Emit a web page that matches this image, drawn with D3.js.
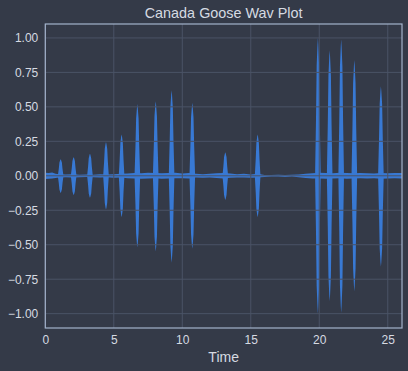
<!DOCTYPE html>
<html><head><meta charset="utf-8">
<script src="https://cdn.jsdelivr.net/npm/d3@7"></script>
<style>
html,body{margin:0;padding:0;background:#343a48;}
svg{display:block;}
</style></head>
<body>
<svg id="chart" width="408" height="371"></svg>
<script>
// ---- data ----
const title = "Canada Goose Wav Plot";
const xLabel = "Time";
const xTicks = [0, 5, 10, 15, 20, 25];
const yTicks = [-1.0, -0.75, -0.5, -0.25, 0.0, 0.25, 0.5, 0.75, 1.0];
const duration = 26.04;

// background noise envelope
const noiseTime = [0,0.25,0.5,0.75,1.0,1.5,2.0,2.5,3.0,3.5,4.0,4.5,5.0,5.5,6.0,6.5,7.0,7.5,8.0,8.5,9.0,9.5,10.0,10.5,11.0,11.5,12.0,12.5,13.0,13.5,14.0,14.5,15.0,15.5,16.0,16.5,17.0,17.5,18.0,18.5,19.0,19.5,20.0,20.5,21.0,21.5,22.0,22.5,23.0,23.5,24.0,24.5,25.0,25.5,26.04];
const noiseMax  = [0.022,0.02,0.024,0.015,0.012,0.01,0.012,0.008,0.01,0.008,0.012,0.01,0.012,0.014,0.016,0.02,0.018,0.022,0.02,0.018,0.02,0.022,0.016,0.02,0.014,0.012,0.014,0.018,0.02,0.016,0.012,0.014,0.01,0.014,0.006,0.006,0.008,0.006,0.008,0.01,0.014,0.018,0.022,0.02,0.018,0.022,0.02,0.018,0.02,0.018,0.016,0.02,0.018,0.02,0.02];
const noiseMin  = [-0.024,-0.022,-0.02,-0.016,-0.012,-0.01,-0.012,-0.01,-0.008,-0.01,-0.012,-0.01,-0.014,-0.012,-0.018,-0.02,-0.022,-0.02,-0.018,-0.022,-0.02,-0.018,-0.018,-0.02,-0.012,-0.014,-0.012,-0.016,-0.02,-0.014,-0.012,-0.012,-0.014,-0.012,-0.008,-0.006,-0.006,-0.008,-0.006,-0.01,-0.016,-0.02,-0.02,-0.022,-0.02,-0.018,-0.022,-0.02,-0.018,-0.02,-0.018,-0.022,-0.02,-0.018,-0.02];

// call bursts: time of peak, positive peak, negative peak
const burstTime = [1.12, 2.07, 3.26, 4.43, 5.57, 6.72, 8.06, 9.22, 10.73, 13.14, 15.5, 19.9, 20.76, 21.6, 22.56, 24.5];
const burstMax  = [0.12, 0.135, 0.16, 0.245, 0.30, 0.52, 0.54, 0.62, 0.53, 0.17, 0.30, 1.0, 0.91, 0.99, 0.84, 0.65];
const burstMin  = [-0.125, -0.14, -0.16, -0.245, -0.30, -0.52, -0.55, -0.63, -0.53, -0.175, -0.30, -1.0, -0.91, -0.995, -0.84, -0.66];

// ---- style / layout ----
const W = 408, H = 371;
const m = {left: 45.3, right: 6, top: 24, bottom: 43};
const bg = "#343a48", gridC = "#4a5366", spineC = "#a3b3cc", textC = "#d6dae2", waveC = "#3879d4";
const font = "'Liberation Sans', Arial, sans-serif";
// spindle profile of one burst (offset in s, relative amplitude)
const profOff = [-0.2,-0.14,-0.09,-0.03,0,0.03,0.09,0.14,0.2];
const profAmp = [0.04,0.4,0.8,0.95,1,0.95,0.8,0.4,0.04];

const svg = d3.select("#chart");
svg.append("rect").attr("width", W).attr("height", H).attr("fill", bg);

const x = d3.scaleLinear().domain([0, duration]).range([m.left, W - m.right]);
const y = d3.scaleLinear().domain([-1.104, 1.101]).range([H - m.bottom, m.top]);

// waveform
const noise = noiseTime.map((t, i) => ({t, hi: noiseMax[i], lo: noiseMin[i]}));
const area = d3.area().x(d => x(d.t)).y0(d => y(d.lo)).y1(d => y(d.hi));
svg.append("clipPath").attr("id", "clip").append("rect")
  .attr("x", m.left).attr("y", m.top).attr("width", W - m.right - m.left).attr("height", H - m.bottom - m.top);
const wave = svg.append("g").attr("clip-path", "url(#clip)");
wave.append("path").datum(noise).attr("d", area).attr("fill", waveC);
burstTime.forEach((bt, i) => {
  const pts = profOff.map((o, k) => ({t: bt + o, hi: burstMax[i] * profAmp[k], lo: burstMin[i] * profAmp[k]}));
  wave.append("path").datum(pts).attr("d", area).attr("fill", waveC);
});

// grid (drawn above the waveform)
const g = svg.append("g");
g.selectAll(".gx").data(xTicks).join("line")
  .attr("x1", d => x(d)).attr("x2", d => x(d))
  .attr("y1", m.top).attr("y2", H - m.bottom)
  .attr("stroke", gridC).attr("stroke-width", 1);
g.selectAll(".gy").data(yTicks).join("line")
  .attr("x1", m.left).attr("x2", W - m.right)
  .attr("y1", d => y(d)).attr("y2", d => y(d))
  .attr("stroke", gridC).attr("stroke-width", 1);

// axes
const xAxis = d3.axisBottom(x).tickValues(xTicks).tickSize(0).tickPadding(7).tickFormat(d3.format("d"));
const yAxis = d3.axisLeft(y).tickValues(yTicks).tickSize(0).tickPadding(7)
  .tickFormat(d => d3.format(".2f")(d).replace("-", "\u2212"));
const gx = svg.append("g").attr("transform", `translate(0,${H - m.bottom})`).call(xAxis);
const gy = svg.append("g").attr("transform", `translate(${m.left},0)`).call(yAxis);
[gx, gy].forEach(a => {
  a.select(".domain").remove();
  a.selectAll("text").attr("fill", textC).style("font-family", font).style("font-size", "12px");
});

// spines
svg.append("rect").attr("x", m.left).attr("y", m.top)
  .attr("width", W - m.right - m.left).attr("height", H - m.bottom - m.top)
  .attr("fill", "none").attr("stroke", spineC).attr("stroke-width", 1.2);

// labels
svg.append("text").attr("x", (m.left + W - m.right) / 2).attr("y", 18)
  .attr("text-anchor", "middle").attr("fill", textC)
  .style("font-family", font).style("font-size", "14.4px").text(title);
svg.append("text").attr("x", (m.left + W - m.right) / 2).attr("y", 361.5)
  .attr("text-anchor", "middle").attr("fill", textC)
  .style("font-family", font).style("font-size", "14px").text(xLabel);
</script>
</body></html>
